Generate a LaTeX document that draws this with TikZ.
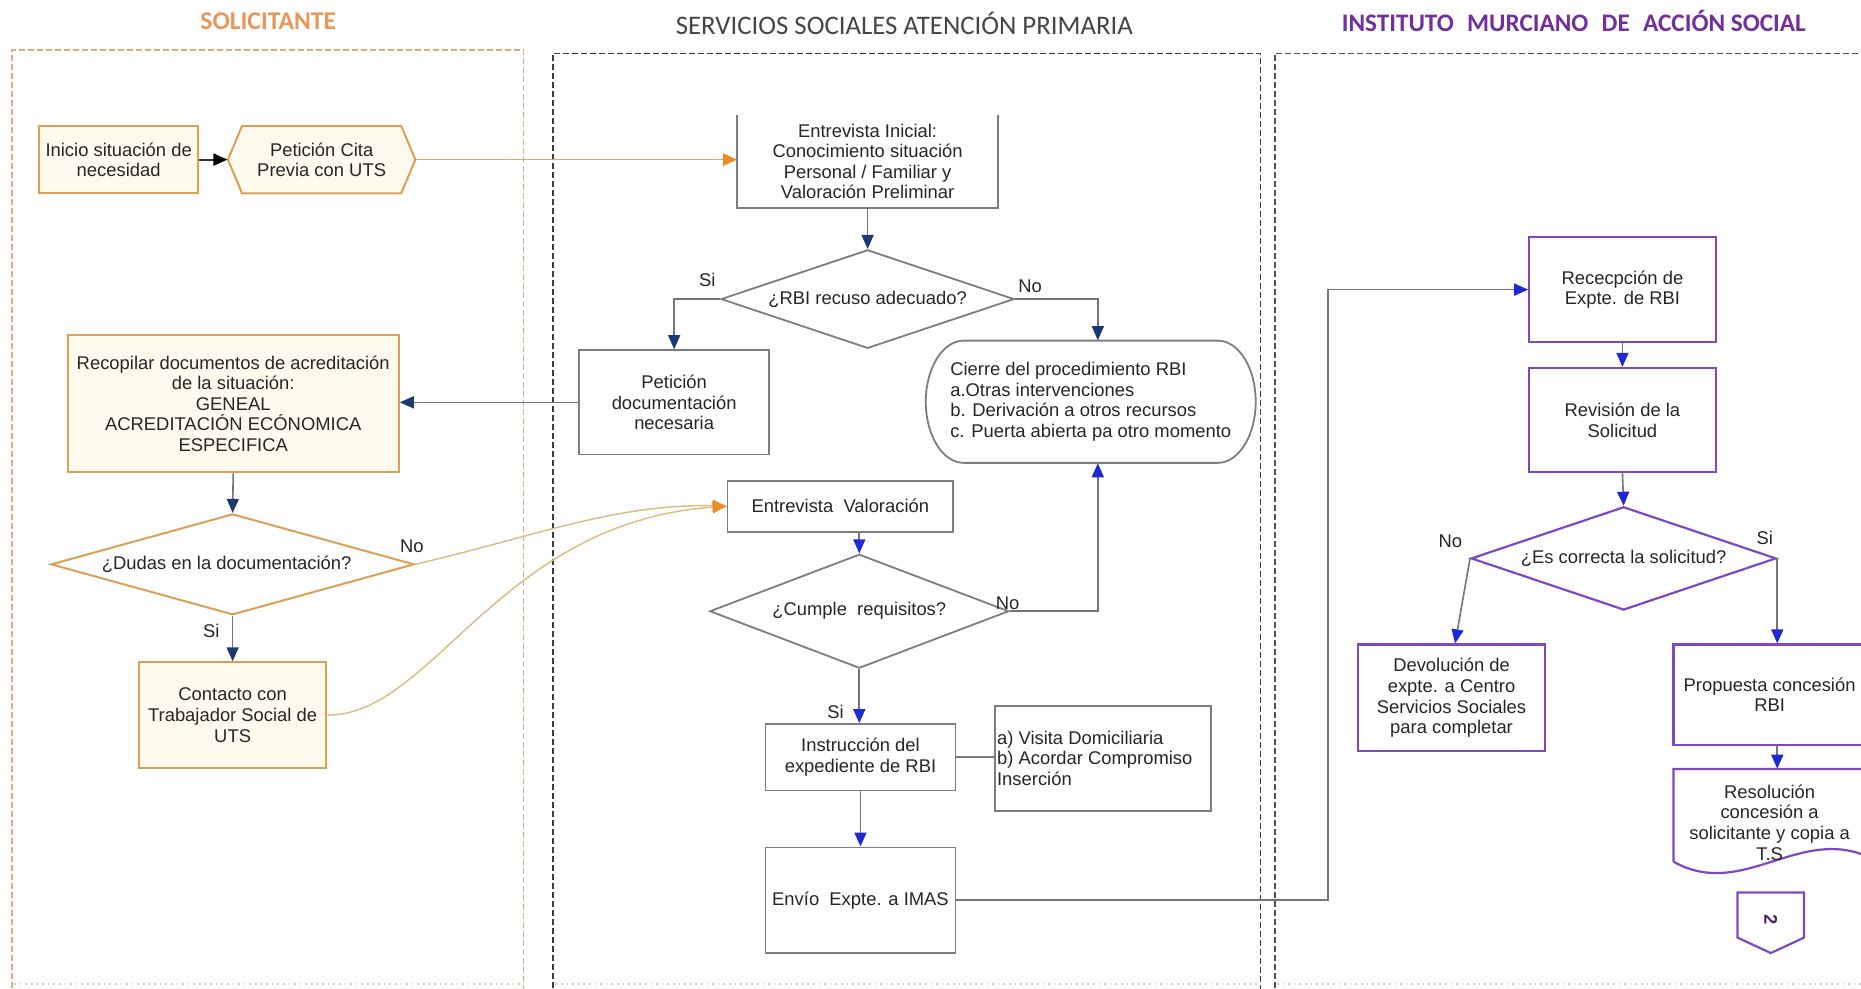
\documentclass[tikz,border=0pt]{standalone}
\usepackage{fontspec}
\setmainfont{Liberation Sans}
\newfontfamily\califont{Carlito}
\usetikzlibrary{arrows.meta,shapes.geometric}
\definecolor{oline}{RGB}{220,160,85}
\definecolor{ofill}{RGB}{255,250,238}
\definecolor{gline}{RGB}{125,125,125}
\definecolor{pline}{RGB}{128,72,190}
\definecolor{cgray}{RGB}{115,115,130}
\definecolor{navy}{RGB}{28,58,112}
\definecolor{bblue}{RGB}{30,40,215}
\definecolor{ocurve}{RGB}{222,185,130}
\definecolor{oarrow}{RGB}{236,140,40}
\definecolor{oline2}{RGB}{236,165,95}
\definecolor{ttlO}{RGB}{232,150,90}
\definecolor{ttlG}{RGB}{70,70,70}
\definecolor{ttlP}{RGB}{112,48,160}
\definecolor{lane1c}{RGB}{225,170,130}
\definecolor{lane2c}{RGB}{60,60,60}
\definecolor{lane3c}{RGB}{80,80,80}
\definecolor{faintc}{RGB}{205,205,205}
\newlength\pxu
\setlength\pxu{0.5935pt}
\newcommand\fs{\fontsize{9.2}{10.3}\selectfont}

\begin{document}
\begin{tikzpicture}[x=\pxu,y=-\pxu,
  base/.style={font=\fs, align=center, inner sep=1pt, text=black!85},
  sz/.style 2 args={minimum width=#1*\pxu, minimum height=#2*\pxu},
  obox/.style={base, draw=oline, fill=ofill, line width=1pt},
  gbox/.style={base, draw=gline, fill=white, line width=0.9pt},
  pbox/.style={base, draw=pline, fill=white, line width=1.1pt},
  dia/.style={diamond, inner sep=0pt},
  lbl/.style={font=\fs, inner sep=0pt, text=black!85},
  tipN/.style={-{Triangle[length=7pt,width=6pt,color=navy]}},
  tipB/.style={-{Triangle[length=7pt,width=6pt,color=bblue]}},
  cN/.style={draw=cgray, line width=0.8pt, tipN},
  cB/.style={draw=cgray, line width=0.8pt, tipB},
  cO/.style={draw=oline2, line width=0.8pt, -{Triangle[length=7pt,width=6pt,color=oarrow]}},
  cOc/.style={draw=ocurve, line width=0.7pt, -{Triangle[length=7pt,width=6pt,color=oarrow]}},
  cK/.style={draw=black!80, line width=0.9pt, -{Triangle[length=7pt,width=6pt,color=black]}},
  lanea/.style={draw=lane1c, line width=0.7pt, dash pattern=on 3pt off 1.5pt},
  laneb/.style={draw=lane2c, line width=0.7pt, dash pattern=on 3pt off 1.5pt},
  lanec/.style={draw=lane3c, line width=0.8pt, dash pattern=on 3pt off 1.5pt},
  faint/.style={draw=faintc, line width=0.8pt, dotted},
  ttl/.style={inner sep=0pt}
]
\useasboundingbox (0,0) rectangle (1568,833);
\clip (0,0) rectangle (1568,833);
\fill[white] (0,0) rectangle (1568,833);

% ---------- lanes ----------
\draw[lanea] (10,840) -- (10,42) -- (441,42) -- (441,840);
\draw[laneb] (466,840) -- (466,45) -- (1062,45) -- (1062,840);
\draw[lanec] (1074,840) -- (1074,45) -- (1590,45);
\draw[faint] (12,829) -- (439,829);
\draw[faint] (468,829) -- (1060,829);
\draw[faint] (1076,829) -- (1568,829);

\node[ttl, font=\califont\bfseries\fontsize{12.8}{14}\selectfont, text=ttlO] (t1) at (226,18) {SOLICITANTE};
\node[ttl, font=\califont\fontsize{13.4}{15}\selectfont, text=ttlG] (t2) at (762,20) {SERVICIOS SOCIALES ATENCIÓN PRIMARIA};
\node[ttl, font=\califont\bfseries\fontsize{12.6}{14}\selectfont, text=ttlP] (t3) at (1326,18) {INSTITUTO\hspace{0.3em} MURCIANO\hspace{0.3em} DE\hspace{0.3em} ACCIÓN SOCIAL};

% ---------- lane 1: solicitante ----------
\node[obox, sz={134}{57}] (inicio) at (100,134.5) {Inicio situación de\\necesidad};
\draw[draw=oline, fill=ofill, line width=1pt] (192,134.5) -- (204,106) -- (338,106) -- (350,134.5) -- (338,163) -- (204,163) -- cycle;
\node[base, sz={158}{57}] (pet) at (271,134.5) {Petición Cita\\Previa con UTS};

\node[obox, sz={279}{116}] (rec) at (196.5,340) {Recopilar documentos de acreditación\\de la situación:\\GENEAL\\ACREDITACIÓN ECÓNOMICA\\ESPECIFICA};
\node[obox, fill=white, dia, sz={306}{85}, aspect=3.6] (d2) at (196,475.5) {\hspace{-10\pxu}¿Dudas en la documentación?};
\node[obox, sz={158}{89}] (cont) at (196,602.5) {Contacto con\\Trabajador Social de\\UTS};

% ---------- lane 2: servicios sociales ----------
\node[base, sz={219}{78}] (ei) at (731,136) {Entrevista Inicial:\\Conocimiento situación\\Personal / Familiar y\\Valoración Preliminar};
\draw[draw=gline, line width=0.9pt] (ei.north west) -- (ei.south west) -- (ei.south east) -- (ei.north east);
\node[gbox, dia, sz={247}{83}, aspect=3] (d1) at (731,252) {¿RBI recuso adecuado?};
\node[gbox, sz={160}{88}] (pd) at (568,339) {Petición\\documentación\\necesaria};
\draw[draw=gline, fill=white, line width=0.9pt] (812,287) -- (1026,287) arc[start angle=90, end angle=-90, x radius=32*\pxu, y radius=51.5*\pxu] -- (812,390) arc[start angle=270, end angle=90, x radius=32*\pxu, y radius=51.5*\pxu] -- cycle;
\node[base, align=left, sz={278}{103}] (cierre) at (919,338.5) {Cierre del procedimiento RBI\\a.Otras intervenciones\\b. Derivación a otros recursos\\c. Puerta abierta pa otro momento};
\node[gbox, sz={190}{43}] (ev) at (708,426.5) {Entrevista\ \ Valoración};
\node[gbox, dia, sz={252}{96}, aspect=2.6] (d3) at (724,515) {¿Cumple\ \ requisitos?};
\node[gbox, sz={160}{56}] (ins) at (725,638) {Instrucción del\\expediente de RBI};
\node[gbox, sz={182}{88}] (side) at (929,639) {};
\node[base, align=left, anchor=west] (sidetxt) at ([xshift=0.5pt]side.west) {a) Visita Domiciliaria\\b) Acordar Compromiso\\Inserción};
\node[gbox, sz={160}{89}] (env) at (725,758.5) {Envío\ \ Expte. a IMAS};

% ---------- lane 3: IMAS ----------
\node[pbox, sz={157}{88}] (recep) at (1367,244) {Rececpción de\\Expte. de RBI};
\node[pbox, sz={157}{88}] (rev) at (1367,354) {Revisión de la\\Solicitud};
\node[pbox, dia, sz={257}{87}, aspect=2.95] (d4) at (1368,470.5) {¿Es correcta la solicitud?};
\node[pbox, sz={158}{90}] (dev) at (1223,588) {Devolución de\\expte. a Centro\\Servicios Sociales\\para completar};
\node[pbox, sz={172}{85}] (prop) at (1496,585.5) {\hspace{-10\pxu}Propuesta concesión\\\hspace{-10\pxu}RBI};
\draw[draw=pline, fill=white, line width=1.1pt] (1410,726) -- (1410,648) -- (1582,648) -- (1582,726) .. controls (1520,690) and (1470,760) .. (1410,726);
\node[base, sz={172}{90}] (res) at (1496,693) {\hspace{-10\pxu}Resolución\\\hspace{-10\pxu}concesión a\\\hspace{-10\pxu}solicitante y copia a\\\hspace{-10\pxu}T.S};
\draw[draw=pline, fill=white, line width=1.1pt] (1464,752) -- (1520,752) -- (1520,790) -- (1492,803) -- (1464,790) -- cycle;
\node[base, sz={56}{51}, text=ttlP!70!black, font=\fs\bfseries, rotate=-90] (off) at (1492,775) {2};

% ---------- connectors ----------
\draw[cK] (inicio.east) -- (pet.west);
\draw[cO] (pet.east) -- (pet.east -| ei.west);
\draw[cN] (ei.south) -- (d1.north);
\draw[cN] (d1.west) -| (pd.north);
\draw[cN] (d1.east) -| ([xshift=6*\pxu]cierre.north);
\draw[cN] (pd.west) -- (pd.west -| rec.east);
\draw[cN] (rec.south) -- (d2.north);
\draw[cN] (d2.south) -- (cont.north);
\draw[cOc] (d2.east) .. controls (450,452) and (520,424) .. (ev.west);
\draw[cOc] (cont.east) .. controls (365,603) and (420,440) .. (ev.west);
\draw[cB] (ev.south -| d3.north) -- (d3.north);
\draw[cB] (d3.east) -| ([xshift=6*\pxu]cierre.south);
\draw[cB] (d3.south) -- (d3.south |- ins.north);
\draw[draw=gline, line width=0.8pt] (ins.east) -- (ins.east -| side.west);
\draw[cB] (ins.south) -- (env.north);
\draw[cB] (env.east) -- ++(313,0) |- (recep.west);
\draw[cB] (recep.south) -- (rev.north);
\draw[cB] (rev.south) -- (d4.north);
\draw[cB] (d4.west) -- ([xshift=3*\pxu]dev.north);
\draw[cB] (d4.east) -- (d4.east |- prop.north);
\draw[cB] (d4.east |- prop.south) -- (d4.east |- res.north);

% ---------- labels ----------
\node[lbl] (l1) at (596,236) {Si};
\node[lbl] (l2) at (868,241) {No};
\node[lbl] (l3) at (347,460) {No};
\node[lbl] (l4) at (178,532) {Si};
\node[lbl] (l5) at (849,508) {No};
\node[lbl] (l6) at (704,600) {Si};
\node[lbl] (l7) at (1222,456) {No};
\node[lbl] (l8) at (1487,453) {Si};
\end{tikzpicture}
\end{document}
